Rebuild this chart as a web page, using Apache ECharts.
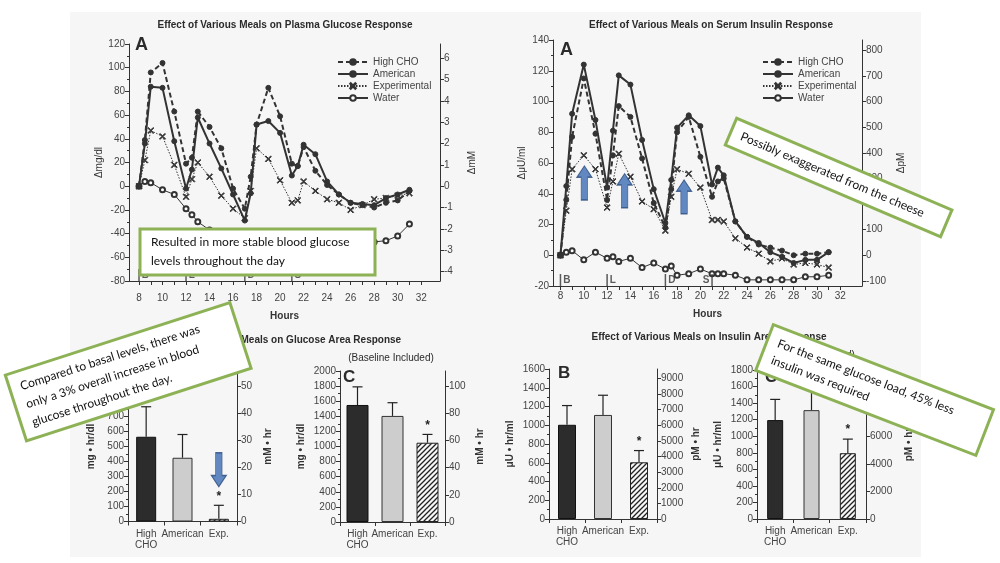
<!DOCTYPE html>
<html>
<head>
<meta charset="utf-8">
<script src="https://cdn.jsdelivr.net/npm/echarts@6/dist/echarts.min.js"></script>
<style>
  html, body { margin: 0; background: #fff; }
  #paper { position: absolute; left: 70px; top: 12px; width: 851px; height: 545px; background: #f6f6f6; }
  #main { position: absolute; left: 0; top: 0; width: 1000px; height: 563px; }
</style>
</head>
<body>
<div id="paper"></div>
<div id="main"></div>
<script>
// sampling times (hours)
var hours = [8, 8.5, 9, 10, 11, 12, 12.5, 13, 14, 15, 16, 17, 17.5, 18, 19, 20, 21, 21.5, 22, 23, 24, 25, 26, 27, 28, 29, 30, 31];
var hourTicks = [8, 9, 10, 11, 12, 13, 14, 15, 16, 17, 18, 19, 20, 21, 22, 23, 24, 25, 26, 27, 28, 29, 30, 31, 32];
var hourLabels = [8, 10, 12, 14, 16, 18, 20, 22, 24, 26, 28, 30, 32];

// plasma glucose, change in mg/dl
var gluHighCHO = [0, 39, 96, 104, 63, 19, 24, 63, 50, 32, -2, -19, 8, 52, 83, 59, 19, 17, 33, 13, 1, -7, -14, -16, -18, -14, -12, -4];
var gluAmerican = [0, 36, 84, 83, 38, -2, 14, 58, 36, 15, -7, -29, -6, 52, 55, 45, 9, 17, 35, 27, 4, -7, -14, -15, -16, -10, -7, -3];
var gluExperimental = [0, 22, 47, 42, 18, -9, 6, 20, 8, -8, -19, -27, -4, 32, 23, 5, -14, -12, 4, -4, -11, -14, -20, -16, -11, -10, -8, -6];
var gluWater = [0, 4, 3, -3, -7, -19, -24, -30, -37, -40, -42, -44, -45, -45, -46, -46, -47, -47, -47, -48, -48, -48, -48, -48, -47, -46, -42, -32];
var gluMmTicks = [-4, -3, -2, -1, 0, 1, 2, 3, 4, 5, 6];

// serum insulin, change in uU/ml
var insHighCHO = [0, 36, 77, 115, 79, 36, 65, 97, 90, 63, 34, 18, 43, 80, 90, 64, 38, 48, 50, 22, 12, 7, 5, 3, 0, 1, 1, 2];
var insAmerican = [0, 45, 92, 124, 88, 44, 81, 117, 111, 75, 43, 21, 49, 83, 91, 84, 46, 57, 52, 22, 12, 8, 2, -1, -5, -3, -3, 2];
var insExperimental = [0, 29, 56, 65, 56, 31, 48, 66, 51, 35, 30, 16, 38, 56, 53, 44, 23, 23, 22, 11, 5, 1, -4, -2, -6, -5, -6, -8];
var insWater = [0, 2, 3, -3, 2, -2, -1, -4, -2, -8, -5, -9, -7, -13, -12, -9, -12, -12, -12, -13, -16, -16, -16, -16, -16, -14, -14, -13];
var insPmTicks = [-100, 0, 100, 200, 300, 400, 500, 600, 700, 800];

// meals
var mealHours = [8, 12, 17, 21];
var mealLetters = ['B', 'L', 'D', 'S'];

// area responses
var barCats = ['High\nCHO', 'American', 'Exp.'];
var gluAreaB = [565, 425, 18];
var gluAreaBErr = [765, 580, 108];
var gluAreaC = [1550, 1405, 1050];
var gluAreaCErr = [1790, 1580, 1160];
var insAreaB = [1005, 1110, 605];
var insAreaBErr = [1210, 1320, 730];
var insAreaC = [1195, 1315, 795];
var insAreaCErr = [1445, 1560, 965];
var signif = [0, 0, 1];
var gluBmMTicks = [0, 10, 20, 30, 40, 50];
var gluCmMTicks = [0, 20, 40, 60, 80, 100];
var insBpMTicks = [0, 1000, 2000, 3000, 4000, 5000, 6000, 7000, 8000, 9000];
var insCpMTicks = [0, 2000, 4000, 6000, 8000, 10000];

// annotation arrows (data units)
var insArrows = [[10.05, 47], [13.5, 42], [18.6, 38]];
var gluArrow = [[2, 345]];

var FONT = '"Liberation Sans", Arial, sans-serif';
var INK = '#333';
var ARROW = 'path://M7,0L14,10L10,10L10,30L4,30L4,10L0,10Z';
var XMARK = 'path://M0,1L1,0L5,4L9,0L10,1L6,5L10,9L9,10L5,6L1,10L0,9L4,5Z';

// hatch tile for the Exp. bars (////)
var hatch = document.createElement('canvas')
hatch.width = 5
hatch.height = 5
var hctx = hatch.getContext('2d')
hctx.fillStyle = '#f7f7f7'
hctx.fillRect(0, 0, 5, 5)
hctx.strokeStyle = '#222'
hctx.lineWidth = 1.3
hctx.beginPath()
hctx.moveTo(-1, 6); hctx.lineTo(6, -1)
hctx.moveTo(-1, 1); hctx.lineTo(1, -1)
hctx.moveTo(4, 6); hctx.lineTo(6, 4)
hctx.stroke()

function plain (v) {
  return String(Math.round(v * 1000) / 1000)
}

function axisBase (grid, pos) {
  return {
    gridIndex: grid,
    position: pos,
    axisLine: { show: true, onZero: false, lineStyle: { color: INK, width: 1 } },
    axisTick: { show: true, length: 4, lineStyle: { color: INK } },
    axisLabel: { color: '#444', fontSize: 10, margin: 4, fontFamily: FONT, formatter: plain },
    splitLine: { show: false },
    nameLocation: 'middle',
    nameTextStyle: { color: INK, fontSize: 10, fontFamily: FONT }
  }
}

function leftAxis (grid, min, max, interval, name, gap, bold) {
  var a = axisBase(grid, 'left')
  a.type = 'value'
  a.min = min
  a.max = max
  a.interval = interval
  a.minorTick = { show: true, splitNumber: 2, length: 2, lineStyle: { color: INK } }
  a.name = name
  a.nameGap = gap
  a.nameRotate = 90
  if (bold) a.nameTextStyle.fontWeight = 'bold'
  return a
}

function rightAxis (grid, min, max, ticks, name, gap, bold) {
  var a = axisBase(grid, 'right')
  a.type = 'value'
  a.min = min
  a.max = max
  a.axisTick.customValues = ticks
  a.axisLabel.customValues = ticks
  a.name = name
  a.nameGap = gap
  a.nameRotate = 90
  if (bold) a.nameTextStyle.fontWeight = 'bold'
  return a
}

function hourAxis (grid, min, max, margin) {
  var a = axisBase(grid, 'bottom')
  a.type = 'value'
  a.min = min
  a.max = max
  a.axisTick.customValues = hourTicks
  a.axisLabel.customValues = hourLabels
  a.axisLabel.margin = margin
  a.name = 'Hours'
  a.nameGap = margin + 18
  a.nameTextStyle.fontWeight = 'bold'
  return a
}

function catAxis (grid) {
  var a = axisBase(grid, 'bottom')
  a.type = 'category'
  a.data = barCats
  a.axisLabel.formatter = null
  a.axisLabel.interval = 0
  a.axisLabel.lineHeight = 11
  a.axisLabel.margin = 7
  a.axisLabel.fontFamily = '"Liberation Sans Narrow", ' + FONT
  return a
}

function pairs (vals) {
  return hours.map(function (h, i) { return [h, vals[i]] })
}

var lineKinds = {
  'High CHO': { symbol: 'circle', symbolSize: 5, lineStyle: { color: INK, width: 2, type: [5, 3] } },
  'American': { symbol: 'circle', symbolSize: 5, lineStyle: { color: INK, width: 2 } },
  'Experimental': { symbol: XMARK, symbolSize: 6, lineStyle: { color: INK, width: 1, type: [1.5, 1.5] } },
  'Water': { symbol: 'emptyCircle', symbolSize: 5, lineStyle: { color: INK, width: 1 } }
}

function lineSeries (name, vals, axis) {
  var k = lineKinds[name]
  return {
    name: name,
    type: 'line',
    xAxisIndex: axis,
    yAxisIndex: axis * 2,
    data: pairs(vals),
    symbol: k.symbol,
    symbolSize: k.symbolSize,
    showAllSymbol: true,
    lineStyle: k.lineStyle,
    itemStyle: { color: INK, borderColor: INK, borderWidth: 1 },
    z: 3
  }
}

function mealSeries (axis, yMin, sLeft) {
  return {
    type: 'scatter',
    xAxisIndex: axis,
    yAxisIndex: axis * 2,
    symbol: 'rect',
    symbolSize: [1.5, 12],
    symbolOffset: [0, -6],
    itemStyle: { color: INK },
    data: mealHours.map(function (h, i) {
      return {
        value: [h, yMin],
        label: { formatter: mealLetters[i], position: (sLeft && i === 3) ? 'left' : 'right' }
      }
    }),
    label: { show: true, distance: 2, fontSize: 10, color: INK, fontFamily: FONT, fontWeight: 'bold' },
    z: 4
  }
}

var barLooks = [
  { color: '#2c2c2c', borderColor: '#111', borderWidth: 1 },
  { color: '#cdcdcd', borderColor: '#333', borderWidth: 1 },
  { color: { image: hatch, repeat: 'repeat' }, borderColor: '#222', borderWidth: 1 }
]

function barSeries (axis, vals, width) {
  return {
    type: 'bar',
    xAxisIndex: axis,
    yAxisIndex: axis * 2,
    barWidth: width,
    data: vals.map(function (v, i) { return { value: v, itemStyle: barLooks[i] } }),
    z: 2
  }
}

function errorSeries (axis, vals, errs) {
  return {
    type: 'custom',
    xAxisIndex: axis,
    yAxisIndex: axis * 2,
    data: vals.map(function (v, i) { return [i, errs[i], v, signif[i]] }),
    renderItem: function (params, api) {
      var p0 = api.coord([api.value(0), api.value(2)])
      var p1 = api.coord([api.value(0), api.value(1)])
      var kids = [
        { type: 'line', shape: { x1: p0[0], y1: p0[1], x2: p1[0], y2: p1[1] }, style: { stroke: '#222', lineWidth: 1.2 } },
        { type: 'line', shape: { x1: p1[0] - 5, y1: p1[1], x2: p1[0] + 5, y2: p1[1] }, style: { stroke: '#222', lineWidth: 1.2 } }
      ]
      if (api.value(3) === 1) {
        kids.push({ type: 'text', x: p1[0], y: p1[1] - 3, style: { text: '*', fill: '#222', font: 'bold 12px ' + FONT, align: 'center', verticalAlign: 'bottom' } })
      }
      return { type: 'group', children: kids }
    },
    z: 3
  }
}

function arrowSeries (axis, pts, rot) {
  return {
    type: 'scatter',
    xAxisIndex: axis,
    yAxisIndex: axis * 2,
    symbol: ARROW,
    symbolSize: [15, 34],
    symbolRotate: rot,
    itemStyle: { color: '#3c6db3', borderColor: '#284a7c', borderWidth: 1 },
    data: pts,
    z: 6
  }
}

function noteBox (cx, cy, w, h, deg, lines, lh) {
  return {
    type: 'group',
    x: cx,
    y: cy,
    rotation: deg * Math.PI / 180,
    z: 100,
    children: [
      { type: 'rect', z: 100, shape: { x: -w / 2, y: -h / 2, width: w, height: h }, style: { fill: '#fff', stroke: '#8db255', lineWidth: 3 } },
      { type: 'text', z: 101, x: -w / 2 + 11, y: 0, style: { text: lines.join('\n'), fill: '#111', font: '12px Lato, "Open Sans", sans-serif', lineHeight: lh, verticalAlign: 'middle' } }
    ]
  }
}

function label (x, y, text, font, align) {
  return { type: 'text', x: x, y: y, z: 50, style: { text: text, fill: '#2b2b2b', font: font, align: align || 'center', verticalAlign: 'middle' } }
}

var legendBase = {
  orient: 'vertical',
  itemWidth: 30,
  itemHeight: 7,
  itemGap: 2,
  textStyle: { color: '#444', fontSize: 10, fontFamily: FONT },
  data: ['High CHO', 'American', 'Experimental', 'Water']
}

var myChart = echarts.init(document.getElementById('main'))
myChart.setOption({
  animation: false,
  legend: [
    Object.assign({}, legendBase, { left: 332, top: 52 }),
    Object.assign({}, legendBase, { left: 757, top: 52 })
  ],
  grid: [
    { left: 129, top: 44, width: 311, height: 237 },
    { left: 553, top: 40, width: 309, height: 246 },
    { left: 128, top: 371.5, width: 109, height: 150 },
    { left: 340, top: 371, width: 105, height: 151 },
    { left: 549, top: 369, width: 108, height: 150 },
    { left: 757, top: 370, width: 109, height: 149 }
  ],
  xAxis: [
    hourAxis(0, 7.15, 33.6, 12),
    hourAxis(1, 7.36, 33.86, 5),
    catAxis(2),
    catAxis(3),
    catAxis(4),
    catAxis(5)
  ],
  yAxis: [
    leftAxis(0, -80, 120, 20, '\u0394mg/dl', 20),
    rightAxis(0, -80 / 18, 120 / 18, gluMmTicks, '\u0394mM', 27),
    leftAxis(1, -20, 140, 20, '\u0394\u03bcU/ml', 26),
    rightAxis(1, -20 * 6, 140 * 6, insPmTicks, '\u0394pM', 34),
    leftAxis(2, 0, 1000, 100, 'mg \u2022 hr/dl', 32, true),
    rightAxis(2, 0, 1000 / 18, gluBmMTicks, 'mM \u2022 hr', 26, true),
    leftAxis(3, 0, 2000, 200, 'mg \u2022 hr/dl', 34, true),
    rightAxis(3, 0, 2000 / 18, gluCmMTicks, 'mM \u2022 hr', 30, true),
    leftAxis(4, 0, 1600, 200, '\u03bcU \u2022 hr/ml', 34, true),
    rightAxis(4, 0, 1600 * 6, insBpMTicks, 'pM \u2022 hr', 34, true),
    leftAxis(5, 0, 1800, 200, '\u03bcU \u2022 hr/ml', 34, true),
    rightAxis(5, 0, 1800 * 6, insCpMTicks, 'pM \u2022 hr', 38, true)
  ],
  series: [
    lineSeries('Water', gluWater, 0),
    lineSeries('Experimental', gluExperimental, 0),
    lineSeries('American', gluAmerican, 0),
    lineSeries('High CHO', gluHighCHO, 0),
    mealSeries(0, -80, false),
    lineSeries('Water', insWater, 1),
    lineSeries('Experimental', insExperimental, 1),
    lineSeries('American', insAmerican, 1),
    lineSeries('High CHO', insHighCHO, 1),
    mealSeries(1, -20, true),
    arrowSeries(1, insArrows, 0),
    barSeries(2, gluAreaB, 20),
    errorSeries(2, gluAreaB, gluAreaBErr),
    arrowSeries(2, gluArrow, 180),
    barSeries(3, gluAreaC, 22),
    errorSeries(3, gluAreaC, gluAreaCErr),
    barSeries(4, insAreaB, 18),
    errorSeries(4, insAreaB, insAreaBErr),
    barSeries(5, insAreaC, 16),
    errorSeries(5, insAreaC, insAreaCErr)
  ],
  graphic: [
    label(285, 25, 'Effect of Various Meals on Plasma Glucose Response', 'bold 10px ' + FONT),
    label(711, 25, 'Effect of Various Meals on Serum Insulin Response', 'bold 10px ' + FONT),
    label(280, 340, 'Effect of Various Meals on Glucose Area Response', 'bold 10px ' + FONT),
    label(709, 337, 'Effect of Various Meals on Insulin Area Response', 'bold 10px ' + FONT),
    label(391, 358, '(Baseline Included)', '10px ' + FONT),
    label(812, 355, '(Baseline Included)', '10px ' + FONT),
    label(135, 45, 'A', 'bold 18px ' + FONT, 'left'),
    label(560, 50, 'A', 'bold 18px ' + FONT, 'left'),
    label(343, 377, 'C', 'bold 17px ' + FONT, 'left'),
    label(558, 373, 'B', 'bold 17px ' + FONT, 'left'),
    label(765, 377, 'C', 'bold 17px ' + FONT, 'left'),
    noteBox(257.5, 252, 235, 46, 0, ['Resulted in more stable blood glucose', 'levels throughout the day'], 19),
    noteBox(838.6, 177.5, 234, 29, -23.1, ['Possibly exaggerated from the cheese'], 16),
    noteBox(128.2, 371.7, 236, 69, 17.9, ['Compared to basal levels, there was', 'only a 3% overall increase in blood', 'glucose throughout the day.'], 19),
    noteBox(874.6, 390, 236, 49, -21.1, ['For the same glucose load, 45% less', 'insulin was required'], 18)
  ]
})
</script>
</body>
</html>
